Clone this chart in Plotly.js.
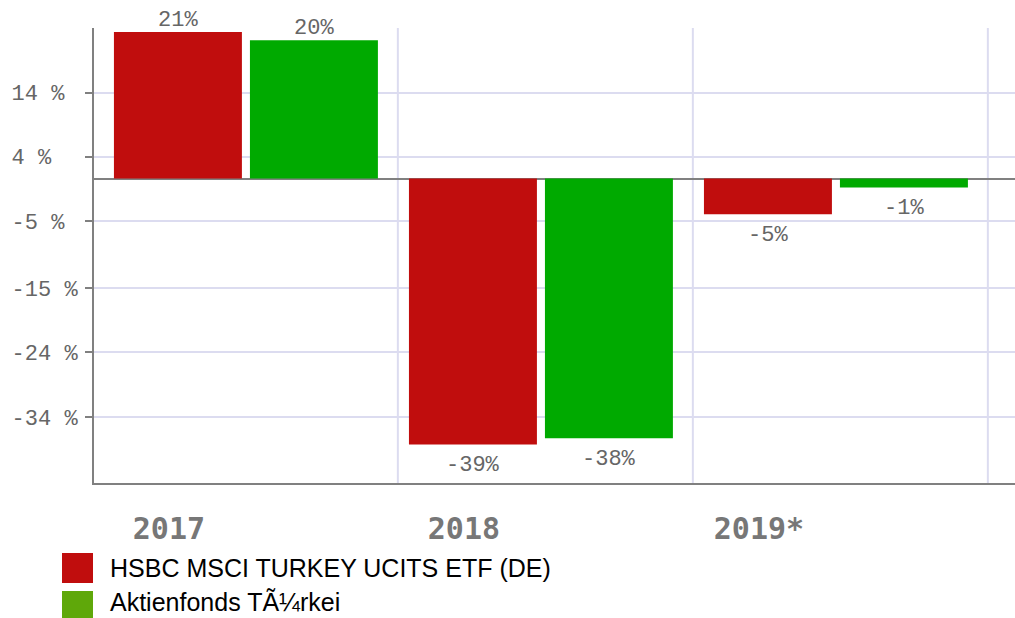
<!DOCTYPE html>
<html>
<head>
<meta charset="utf-8">
<script src="https://cdn.plot.ly/plotly-3.0.1.min.js"></script>
<style>
  html, body { margin: 0; padding: 0; background: #ffffff; }
  #chart { width: 1015px; height: 618px; }
</style>
</head>
<body>
<div id="chart"></div>
<script>
// ---- data ----
const categories = ["2017", "2018", "2019*"];
const seriesNames = ["HSBC MSCI TURKEY UCITS ETF (DE)", "Aktienfonds TÃ¼rkei"];
const etfValues = [21.3, -38.7, -5.2];
const fundValues = [20.1, -37.8, -1.3];
const yTickPositions = [12.5, 3.2, -6.2, -15.9, -25.3, -34.7];
const yTickLabels = ["14 %", "4 %", "-5 %", "-15 %", "-24 %", "-34 %"];

// ---- styling ----
const barColors = ["#c00d0d", "#00aa00"];
const legendColors = ["#c00d0d", "#5fa80a"];
const gridColor = "#dcdcf0";
const axisColor = "#808080";
const monoFont = "Liberation Mono, DejaVu Sans Mono, monospace";

function pctLabel(v) { return Math.round(v) + "%"; }
function padLabel(s) { let t = s; while (t.length < 5) t += "\u00a0"; return t; }

const seriesValues = [etfValues, fundValues];
const traces = seriesValues.map((vals, i) => ({
  type: "bar",
  name: seriesNames[i],
  x: categories,
  y: vals,
  marker: { color: barColors[i], line: { width: 0 } },
  showlegend: false,
  hoverinfo: "skip"
}));

const shapes = [];
// vertical category separators
categories.forEach((c, i) => {
  shapes.push({
    type: "line", xref: "x", yref: "paper",
    x0: i + 0.515, x1: i + 0.515, y0: 0, y1: 1,
    line: { color: gridColor, width: 2 }, layer: "below"
  });
});
// legend swatches
seriesNames.forEach((n, i) => {
  shapes.push({
    type: "rect", xref: "paper", yref: "paper",
    xsizemode: "pixel", ysizemode: "pixel", xanchor: 0, yanchor: 0,
    x0: -32, x1: -1, y0: -70 - i * 38, y1: -100 - i * 38,
    fillcolor: legendColors[i], line: { width: 0 }
  });
});

const annotations = [];
// bar value labels (x given as category index on the category axis)
seriesValues.forEach((vals, i) => {
  vals.forEach((v, j) => {
    annotations.push({
      xref: "x", yref: "y", x: j, y: v,
      xshift: i === 0 ? -68 : 68, yshift: v >= 0 ? 12 : -21,
      xanchor: "center", yanchor: "middle", showarrow: false,
      text: pctLabel(v),
      font: { family: monoFont, size: 22, color: "#666666" }
    });
  });
});
// legend labels
seriesNames.forEach((n, i) => {
  annotations.push({
    xref: "paper", yref: "paper", x: 0.0152, y: 0, yshift: -85 - i * 34,
    xanchor: "left", yanchor: "middle", showarrow: false,
    text: n, font: { family: "Liberation Sans, Arial, sans-serif", size: 25, color: "#000000" }
  });
});

const layout = {
  width: 1015, height: 618,
  margin: { l: 94, r: 0, t: 28, b: 135 },
  paper_bgcolor: "#ffffff", plot_bgcolor: "#ffffff",
  barmode: "group", bargap: 0.078, bargroupgap: 0.059,
  xaxis: {
    type: "category",
    range: [-0.515, 2.607],
    showgrid: false, zeroline: false,
    showline: true, linecolor: axisColor, linewidth: 2,
    ticks: "", ticklabelshift: -77, ticklabelstandoff: 18,
    tickfont: { family: "DejaVu Sans Mono, monospace", size: 30, color: "#777777", weight: "bold" }
  },
  yaxis: {
    range: [-44.3, 21.9],
    tickmode: "array", tickvals: yTickPositions, ticktext: yTickLabels.map(padLabel),
    showgrid: true, gridcolor: gridColor, gridwidth: 2,
    zeroline: true, zerolinecolor: axisColor, zerolinewidth: 2,
    showline: true, linecolor: axisColor, linewidth: 2,
    ticks: "outside", ticklen: 7, tickwidth: 2, tickcolor: axisColor,
    ticklabelstandoff: 3,
    tickfont: { family: monoFont, size: 22, color: "#666666" }
  },
  shapes: shapes,
  annotations: annotations
};

Plotly.newPlot("chart", traces, layout, { displayModeBar: false, staticPlot: true });
</script>
</body>
</html>
